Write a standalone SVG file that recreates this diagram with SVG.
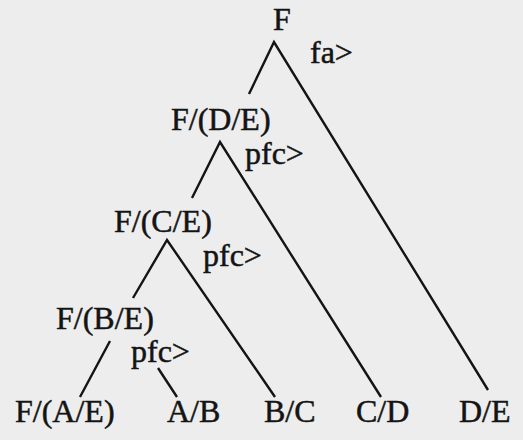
<svg xmlns="http://www.w3.org/2000/svg" width="523" height="440" viewBox="0 0 523 440">
<style>
text{font-family:"Liberation Serif","Times New Roman",serif;font-size:32px;fill:#141414;stroke:#141414;stroke-width:0.5}
.e{stroke:#141414;stroke-width:2.4;fill:none;stroke-linecap:butt}
</style>
<rect width="523" height="440" fill="#ededed"/>
<g id="connectors">
<polyline class="e" points="249,94 274,42 488,390"/>
<polyline class="e" points="192,198 220,142 381,397"/>
<polyline class="e" points="133,298 167,240 275,397"/>
<line class="e" x1="110" y1="341" x2="80" y2="397"/>
<line class="e" x1="158" y1="368" x2="177" y2="397"/>
</g>
<g id="n-F"><text x="273" y="30">F</text></g>
<g id="lbl-fa"><text x="310" y="63">fa&gt;</text></g>
<g id="n-FDE"><text x="171" y="130">F/(D/E)</text></g>
<g id="lbl-pfc1"><text x="245" y="164">pfc&gt;</text></g>
<g id="n-FCE"><text x="114" y="232">F/(C/E)</text></g>
<g id="lbl-pfc2"><text x="203" y="266">pfc&gt;</text></g>
<g id="n-FBE"><text x="56" y="329">F/(B/E)</text></g>
<g id="lbl-pfc3"><text x="131" y="362">pfc&gt;</text></g>
<g id="n-FAE"><text x="15" y="422">F/(A/E)</text></g>
<g id="n-AB"><text x="167" y="422">A/B</text></g>
<g id="n-BC"><text x="264" y="422">B/C</text></g>
<g id="n-CD"><text x="356" y="422">C/D</text></g>
<g id="n-DE"><text x="459" y="422">D/E</text></g>
</svg>
